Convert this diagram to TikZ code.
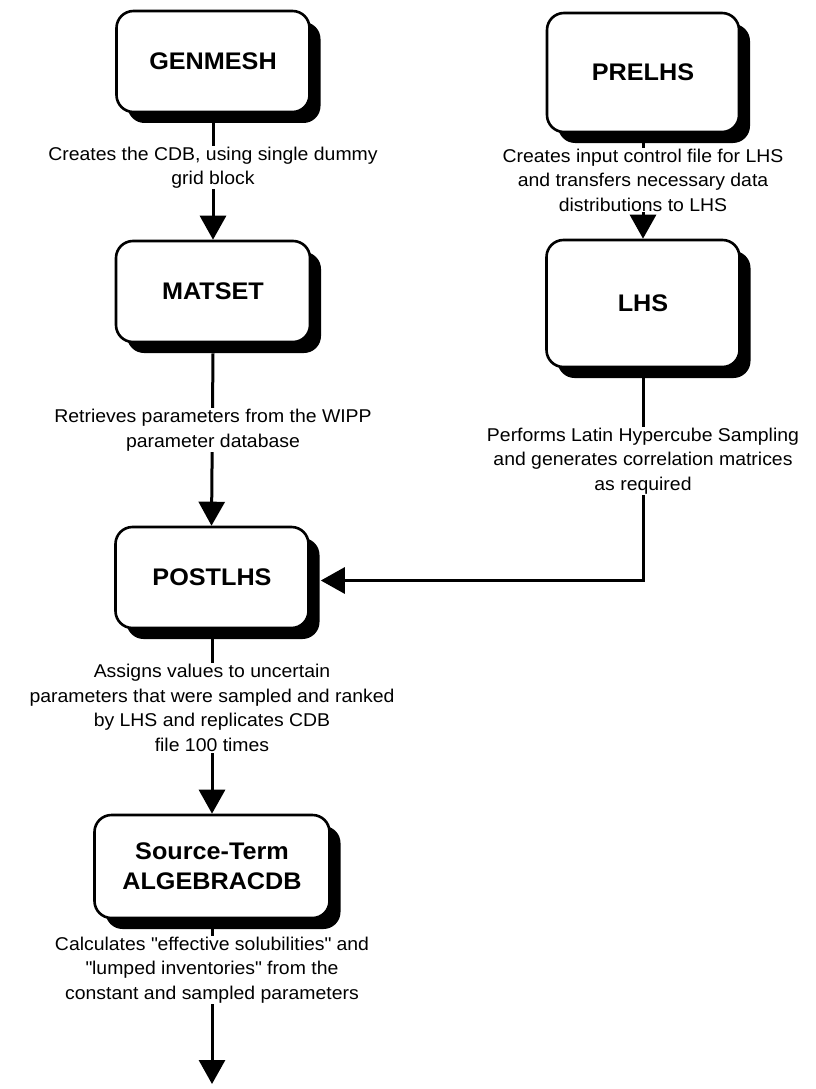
\documentclass[tikz,border=0pt]{standalone}
\usepackage{fontspec}
\setmainfont{Liberation Sans}[FakeStretch=1.05]
\usetikzlibrary{arrows.meta,shadows}
\begin{document}
\begin{tikzpicture}[x=1pt,y=-1pt,
  prog/.style={draw=black, line width=2.6pt, fill=white, rounded corners=17pt,
    align=center, font=\fontsize{24}{30}\selectfont\bfseries,
    general shadow={fill=black, shadow xshift=11pt, shadow yshift=-11pt}},
  conn/.style={line width=3pt, -{Triangle[width=26pt,length=24pt]}},
  lbl/.style={fill=white, inner sep=1pt, align=center, font=\fontsize{18.5}{24.5}\selectfont}
]
\useasboundingbox (0,0) rectangle (816,1089);

% program boxes
\node[prog, minimum width=193pt, minimum height=101pt] (genmesh) at (213,61.5) {GENMESH};
\node[prog, minimum width=194pt, minimum height=101pt] (matset) at (213,291.5) {MATSET};
\node[prog, minimum width=193pt, minimum height=101pt] (postlhs) at (212,577.5) {POSTLHS};
\node[prog, minimum width=235pt, minimum height=103pt] (source) at (212,866.5) {Source-Term\\ALGEBRACDB};
\node[prog, minimum width=192pt, minimum height=119pt] (prelhs) at (643,72.5) {PRELHS};
\node[prog, minimum width=193pt, minimum height=127pt] (lhs) at (643,303.5) {LHS};
\coordinate (end) at (212,1084);

% connectors
\draw[conn] ([yshift=-10pt]genmesh.south) -- (matset.north);
\draw[conn] ([yshift=-10pt]prelhs.south) -- (lhs.north);
\draw[conn] ([yshift=-10pt]matset.south) -- ([xshift=-0.5pt]postlhs.north);
\draw[conn] ([yshift=-10pt]lhs.south) |- ([xshift=11pt,yshift=-3pt]postlhs.east);
\draw[conn] ([yshift=-10pt]postlhs.south) -- (source.north);
\draw[conn] ([yshift=-10pt]source.south) -- (end);

% labels
\node[lbl] (l1) at (213,167.5) {Creates the CDB, using single dummy\\grid block};
\node[lbl] (l2) at (643,180) {Creates input control file for LHS\\and transfers necessary data\\distributions to LHS};
\node[lbl] (l3) at (213,430) {Retrieves parameters from the WIPP\\parameter database};
\node[lbl] (l4) at (643,461) {Performs Latin Hypercube Sampling\\and generates correlation matrices\\as required};
\node[lbl] (l5) at (212,708) {Assigns values to uncertain\\parameters that were sampled and ranked\\by LHS and replicates CDB\\file 100 times};
\node[lbl] (l6) at (212,970) {Calculates \textquotedbl effective solubilities\textquotedbl{} and\\\textquotedbl lumped inventories\textquotedbl{} from the\\constant and sampled parameters};
\end{tikzpicture}
\end{document}
